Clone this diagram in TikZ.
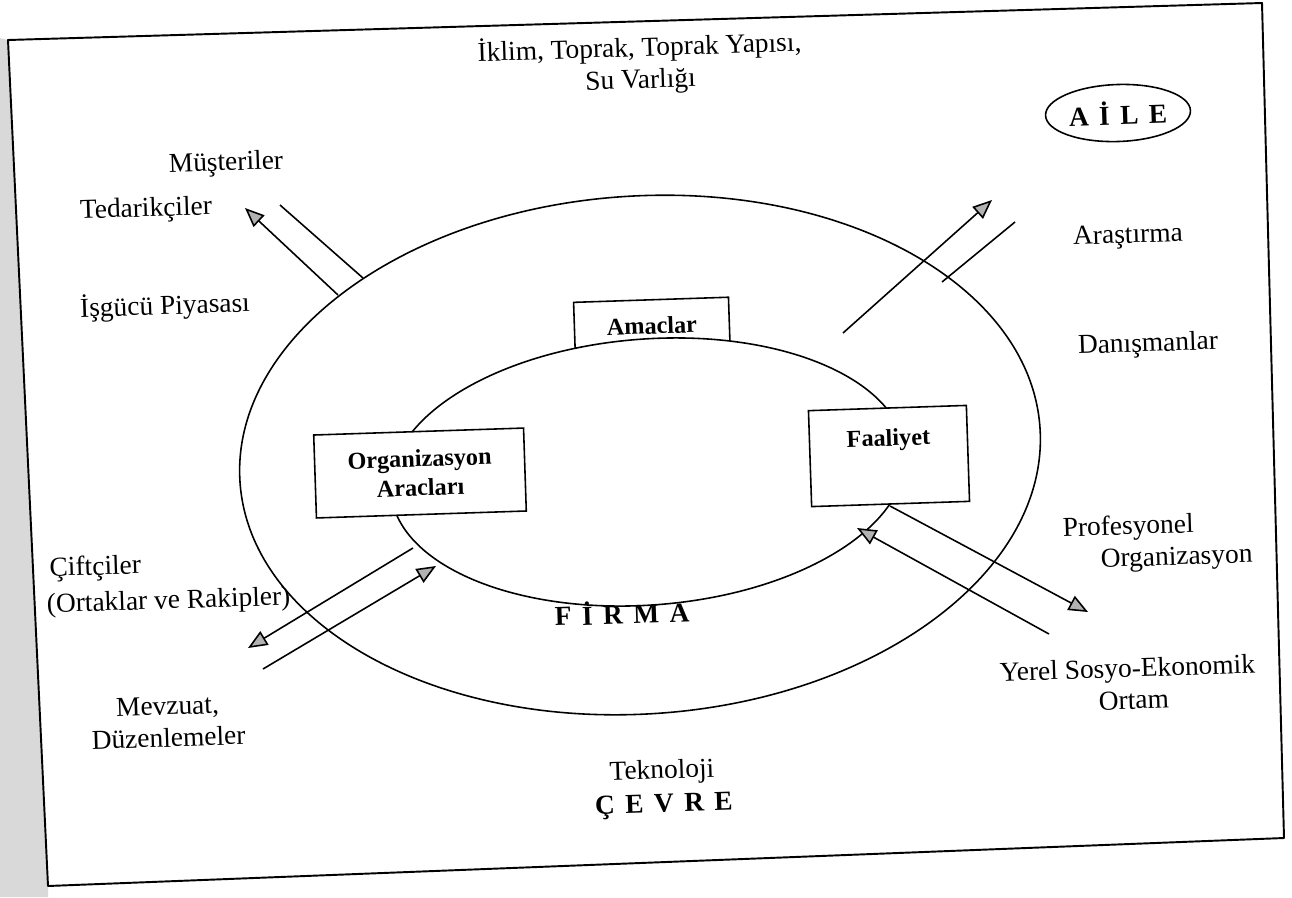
\documentclass[tikz,border=0pt]{standalone}
\usepackage{fontspec}
\setmainfont{Liberation Serif}
\usetikzlibrary{arrows.meta,shapes.geometric}

% letter spacing for the spaced capitals
\newcommand{\spc}{\hspace{0.38em}}

\begin{document}
\begin{tikzpicture}[x=0.02cm,y=-0.02cm,
  every node/.style={rotate=1.9, inner sep=0pt},
  lbl/.style={font=\fontsize{15.6pt}{17.3pt}\selectfont, align=center},
  twoline/.style={font=\fontsize{15.6pt}{18.2pt}\selectfont},
  big/.style={font=\fontsize{15.6pt}{16pt}\selectfont\bfseries},
  boxtext/.style={draw, line width=0.9pt, fill=white,
    font=\fontsize{13.8pt}{16.5pt}\selectfont\bfseries, align=center},
  ring/.style={draw, ellipse, line width=0.9pt},
  flow/.style={line width=0.9pt, -{Triangle[length=11pt,width=9pt,fill=gray!60]}},
  plain/.style={line width=0.9pt}]

\useasboundingbox (0,0) rectangle (1292,897);

% page edge and frame
\fill[black!15] (0,38) -- (8,40) -- (48,886) -- (48,897) -- (0,897) -- cycle;
\coordinate (f1) at (8,40);
\coordinate (f2) at (1262,3);
\coordinate (f3) at (1284,838);
\coordinate (f4) at (48,886);
\draw[line width=1.1pt, line join=round] (f1) -- (f2) -- (f3) -- (f4) -- cycle;

% outer ring: the firm
\node[ring, minimum width=16.04cm, minimum height=10.36cm, rotate=2] (outer) at (640,455) {};

% goals box, partly hidden behind the inner ring
\node[boxtext, anchor=north, minimum width=3.1cm, minimum height=1.6cm,
      text height=0.32cm, text depth=0.56cm] (amac) at (651,299) {Amaclar};

% inner ring
\node[ring, fill=white, minimum width=10.32cm, minimum height=5.32cm, rotate=2.5] (inner) at (648,472) {};

\node[boxtext, minimum width=4.2cm, minimum height=1.66cm] (org) at (420,473) {Organizasyon\\Aracları};
\node[boxtext, minimum width=3.16cm, minimum height=1.92cm,
      text height=0.32cm, text depth=0.72cm] (faal) at (889,456) {Faaliyet};

% family
\node[ring, minimum width=2.9cm, minimum height=1.14cm, big] (aile) at (1118,113) {A\spc İ\spc L\spc E};

% environment labels
\node[lbl, twoline] (iklim) at (640,64) {İklim, Toprak, Toprak Yapısı,\\Su Varlığı};
\node[lbl] (must) at (226,164) {Müşteriler};
\node[lbl] (tedar) at (146,210) {Tedarikçiler};
\node[lbl] (arast) at (1128,237) {Araştırma};
\node[lbl] (isguc) at (165,306) {İşgücü Piyasası};
\node[lbl] (danis) at (1148,345) {Danışmanlar};
\node[lbl, twoline, align=left, anchor=west] (prof) at (1063,546) {Profesyonel\\\hspace*{0.74cm}Organizasyon};
\node[lbl, twoline, align=left, anchor=west] (cift) at (46,588) {\hspace*{0.08cm}Çiftçiler\\[2.5pt](Ortaklar ve Rakipler)};
\node[lbl, twoline] (mevz) at (168,722) {Mevzuat,\\Düzenlemeler};
\node[lbl, twoline, align=left, anchor=west] (yerel) at (1000,688) {Yerel Sosyo-Ekonomik\\\hspace*{1.96cm}Ortam};
\node[big] (firma) at (622,612) {F\spc İ\spc R\spc M\spc A};
\node[lbl] (tekno) at (662,772) {Teknoloji};
\node[big] (cevre) at (664,806) {Ç\spc E\spc V\spc R\spc E};

% exchanges across the firm boundary
\coordinate (ulA) at (338,295);  \coordinate (ulB) at (245,208);
\coordinate (ulC) at (363,278);  \coordinate (ulD) at (280,205);
\draw[flow] (ulA) -- (ulB);
\draw[plain] (ulC) -- (ulD);

\coordinate (urA) at (843,333);  \coordinate (urB) at (992,200);
\coordinate (urC) at (942,282);  \coordinate (urD) at (1015,222);
\draw[flow] (urA) -- (urB);
\draw[plain] (urC) -- (urD);

\coordinate (blA) at (413,548);  \coordinate (blB) at (248,648);
\coordinate (blC) at (263,669);  \coordinate (blD) at (436,566);
\draw[flow] (blA) -- (blB);
\draw[flow] (blC) -- (blD);

\coordinate (brA) at (1049,634); \coordinate (brB) at (857,528);
\coordinate (brC) at (890,506);  \coordinate (brD) at (1088,612);
\draw[flow] (brA) -- (brB);
\draw[flow] (brC) -- (brD);

\end{tikzpicture}
\end{document}
